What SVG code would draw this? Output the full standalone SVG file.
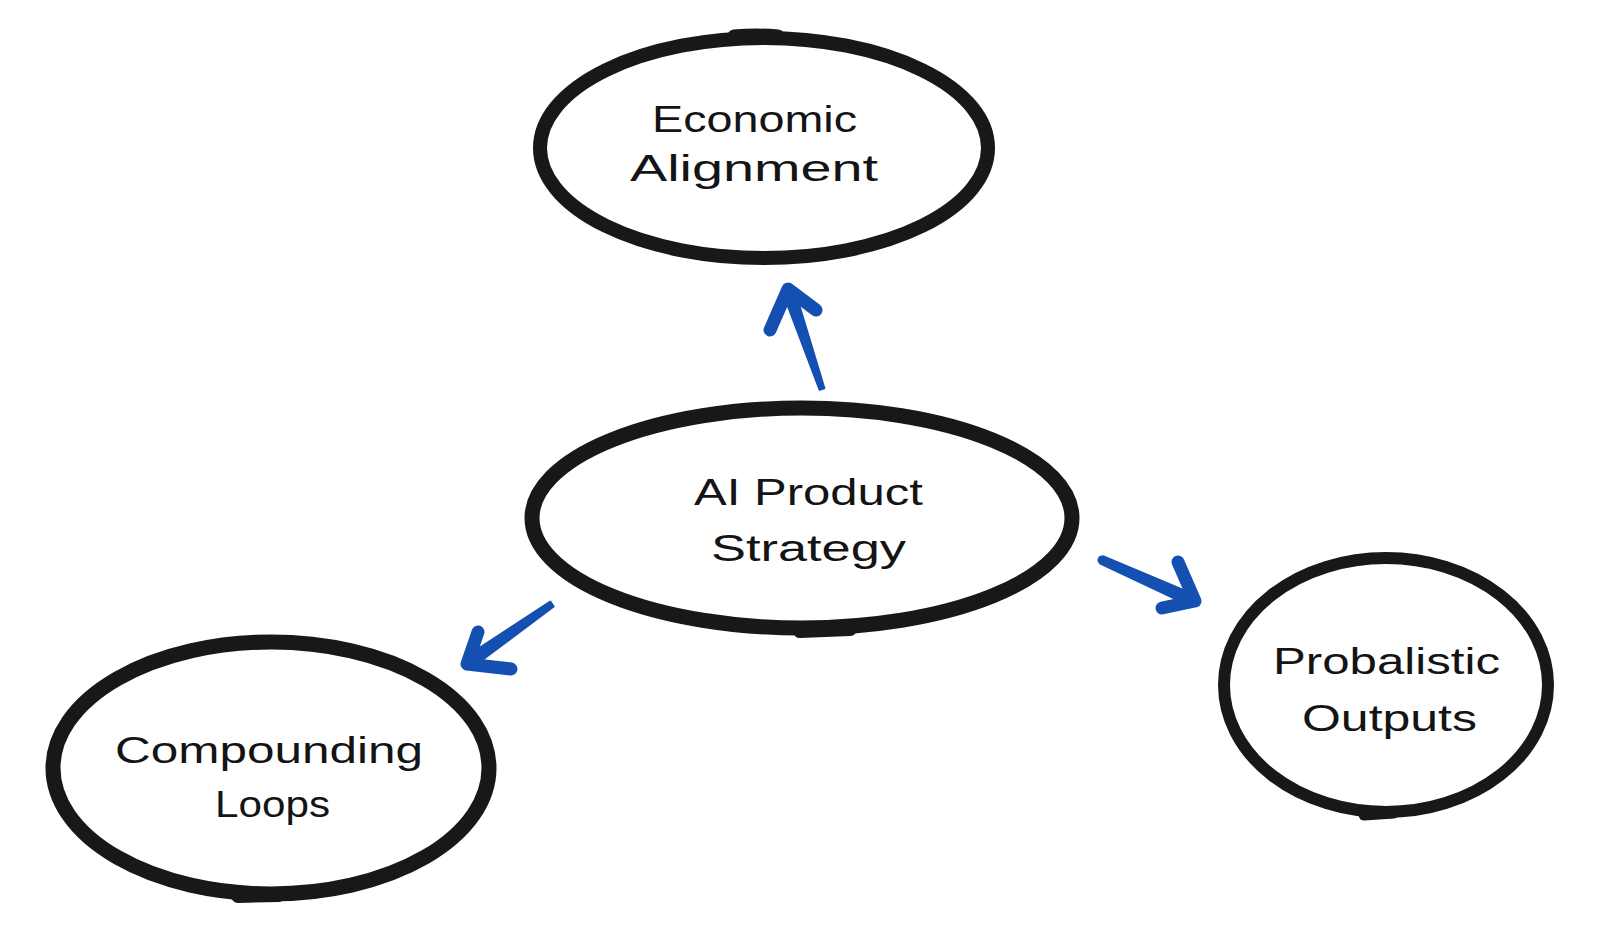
<svg xmlns="http://www.w3.org/2000/svg" width="1600" height="927" viewBox="0 0 1600 927">
<style>
.node{fill:none;stroke:#181818}
.blot{stroke:#181818;stroke-linecap:round;fill:none}
.lbl{font-family:"Liberation Sans","DejaVu Sans",sans-serif;font-size:36px;fill:#141414}
.shaft{fill:#1450b2;stroke:#1450b2;stroke-width:2;stroke-linejoin:round}
.head{fill:none;stroke:#1450b2;stroke-width:13;stroke-linecap:round;stroke-linejoin:round}
</style>
<rect width="1600" height="927" fill="#ffffff"/>
<g id="node-economic">
<ellipse class="node" cx="764" cy="148" rx="224" ry="110" stroke-width="14"/>
<path class="blot" d="M734 36 Q756 34 778 36" stroke-width="13"/>
<text class="lbl" x="652" y="132" textLength="205" lengthAdjust="spacingAndGlyphs">Economic</text>
<text class="lbl" x="630" y="181" textLength="248" lengthAdjust="spacingAndGlyphs">Alignment</text>
</g>
<g id="node-strategy">
<ellipse class="node" cx="802" cy="518" rx="270" ry="110" stroke-width="15"/>
<path class="blot" d="M800 631 L850 629" stroke-width="14"/>
<text class="lbl" x="694" y="505" textLength="229" lengthAdjust="spacingAndGlyphs">AI Product</text>
<text class="lbl" x="711" y="561" textLength="195" lengthAdjust="spacingAndGlyphs">Strategy</text>
</g>
<g id="node-compounding">
<ellipse class="node" cx="271" cy="768" rx="218" ry="126" stroke-width="15"/>
<path class="blot" d="M238 896 L279 895" stroke-width="14"/>
<text class="lbl" x="115" y="763" textLength="308" lengthAdjust="spacingAndGlyphs">Compounding</text>
<text class="lbl" x="215" y="817" textLength="115" lengthAdjust="spacingAndGlyphs">Loops</text>
</g>
<g id="node-probalistic">
<ellipse class="node" cx="1386" cy="685" rx="162" ry="127" stroke-width="12"/>
<path class="blot" d="M1364 815 L1394 813" stroke-width="11"/>
<text class="lbl" x="1273" y="674" textLength="227" lengthAdjust="spacingAndGlyphs">Probalistic</text>
<text class="lbl" x="1302" y="731" textLength="175" lengthAdjust="spacingAndGlyphs">Outputs</text>
</g>
<g id="connectors">
<path class="shaft" d="M824.4 388.2 L819.6 389.8 L783.3 293.9 L794.7 290.1 Z"/>
<path class="head" d="M770 330 L788 289 L816 310"/>
<path class="shaft" d="M553.7 606.5 L550.3 601.5 L468.5 655.1 L475.5 664.9 Z"/>
<path class="head" d="M478 632 L467 664 L511 669"/>
<path class="shaft" d="M1100.4 563.7 L1103.6 556.3 L1196.4 595.5 L1191.6 606.5 Z"/>
<circle cx="1102" cy="560" r="4.5" fill="#1450b2"/>
<path class="head" d="M1178 562 L1195 601 L1162 608"/>
</g>
</svg>
